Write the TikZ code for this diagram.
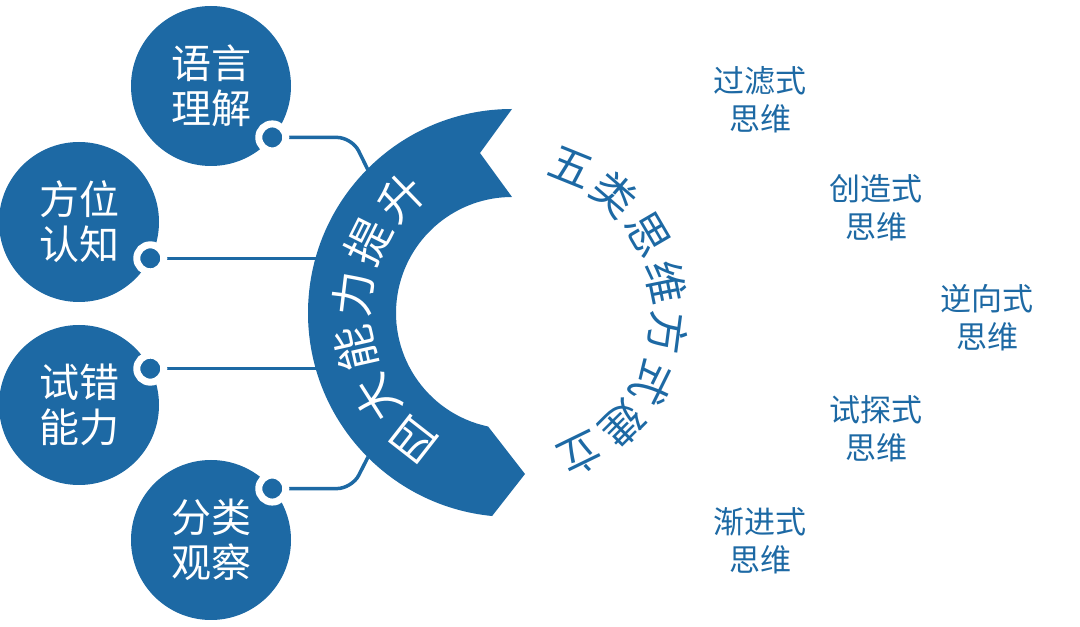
\documentclass[tikz,border=0pt]{standalone}
\usepackage{fontspec}
\newfontfamily\cjk{Noto Sans CJK SC}
\usetikzlibrary{calc}
\definecolor{capblue}{RGB}{29,105,164}

\begin{document}
\begin{tikzpicture}
        [x=1pt, y=1pt, every node/.style={inner sep=0, outer sep=0, font=\cjk},
         skill/.style={circle, fill=capblue, minimum size=160, text=white, align=center, font=\cjk\fontsize{40}{45}\selectfont},
         link/.style={draw=capblue, line width=3.5, rounded corners=15},
         pin/.style={circle, minimum size=27, fill=capblue, draw=white, line width=7},
         bandtxt/.style={text=white, font=\cjk\fontsize{45}{45}\selectfont},
         arctxt/.style={text=capblue, font=\cjk\fontsize{43}{43}\selectfont},
         mode/.style={text=capblue, align=center, font=\cjk\fontsize{31}{38}\selectfont}]

        \useasboundingbox (0,0) rectangle (1080,627);

        \coordinate (o) at (512,314);

        \node[skill] (c1) at (211,541) {语言\\理解};
        \node[skill] (c2) at (79,405) {方位\\认知};
        \node[skill] (c3) at (79,222) {试错\\能力};
        \node[skill] (c4) at (211,87) {分类\\观察};

        \coordinate (k1) at (352,489);
        \coordinate (b1) at (368,457);
        \coordinate (b2) at (330,369);
        \coordinate (b3) at (330,255);
        \coordinate (k4) at (352,138);
        \coordinate (b4) at (368,170);

        \draw[link] (c1.-40) -- (c1.-40 -| k1) -- (b1);
        \draw[link] (c2.-27) -- (c2.-27 -| b2);
        \draw[link] (c3.27) -- (c3.27 -| b3);
        \draw[link] (c4.40) -- (c4.40 -| k4) -- (b4);

        \node[pin] (p1) at (c1.-40) {};
        \node[pin] (p2) at (c2.-27) {};
        \node[pin] (p3) at (c3.27) {};
        \node[pin] (p4) at (c4.40) {};

        \fill[capblue] (512,518) arc[start angle=90, end angle=264.4, radius=204]
          -- (525,153) -- (488.1,200.5) arc[start angle=258.1, end angle=90, radius=116]
          -- (480,474) -- cycle;

        \foreach \ch [count=\i from 0] in {四,大,能,力,提,升}
          \node[bandtxt, rotate=142-19.6*\i] (u\i) at ($(o)+({232-19.6*\i}:160)$) {\ch};

        \foreach \ch [count=\i from 0] in {五,类,思,维,方,式,建,立}
          \node[arctxt, rotate=-22-18.86*\i] (w\i) at ($(o)+({68-18.86*\i}:157)$) {\ch};

        \node[mode] (m1) at (760,527) {过滤式\\思维};
        \node[mode] (m2) at (876,419) {创造式\\思维};
        \node[mode] (m3) at (987,309) {逆向式\\思维};
        \node[mode] (m4) at (876,198) {试探式\\思维};
        \node[mode] (m5) at (760,86) {渐进式\\思维};

      \end{tikzpicture}
\end{document}
